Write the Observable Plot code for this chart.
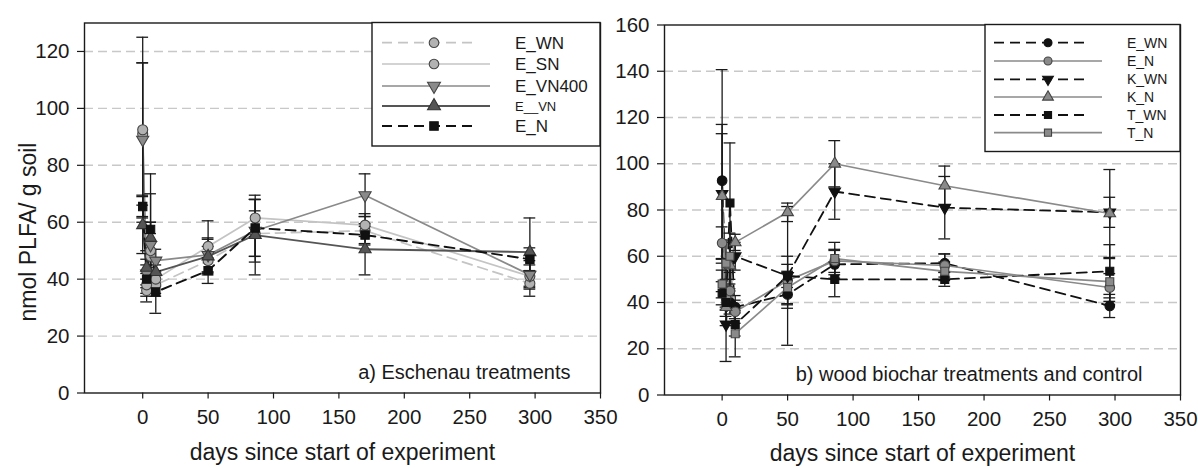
<!DOCTYPE html>
<html>
<head>
<meta charset="utf-8">
<script src="https://cdn.jsdelivr.net/npm/d3@7"></script>
<script src="https://cdn.jsdelivr.net/npm/@observablehq/plot@0.6"></script>
<style>
  body { margin: 0; background: #fff; font-family: "Liberation Sans", Arial, sans-serif; }
  #wrap { position: relative; width: 1198px; height: 468px; overflow: hidden; background: #fff; }
  .panel { position: absolute; top: 0; }
  #overlay { position: absolute; left: 0; top: 0; pointer-events: none; }
</style>
</head>
<body>
<div id="wrap">
  <div class="panel" id="pa" style="left:0px"></div>
  <div class="panel" id="pb" style="left:612px"></div>
</div>
<script>
// ---------- data ----------
const days = [0, 3, 6, 10, 50, 86, 170, 296];
const xTicks = [0, 50, 100, 150, 200, 250, 300, 350];
const yTicksA = [0, 20, 40, 60, 80, 100, 120];
const yTicksB = [0, 20, 40, 60, 80, 100, 120, 140, 160];

// panel a) Eschenau treatments
const seriesA = ["E_WN", "E_SN", "E_VN400", "E__VN", "E_N"];
const a_E_WN      = [91, 36, 48, 38, 46.5, 56, 57, 38.5];
const a_E_WN_err  = [25, 4, 8, 4, 5, 8, 5, 4.5];
const a_E_SN      = [92.5, 38, 50, 40, 51.5, 61.5, 59, 41];
const a_E_SN_err  = [32.5, 4, 10, 5, 9, 6.5, 4, 4];
const a_E_VN400     = [89, 42, 52, 46.5, 48.5, 57, 69.5, 41.5];
const a_E_VN400_err = [27, 5, 8, 4, 6, 11, 7.5, 5];
const a_E__VN     = [59, 44, 54.5, 42.5, 48, 55.5, 50.5, 49.5];
const a_E__VN_err = [10, 6, 15.5, 5, 6, 14, 9, 12];
const a_E_N       = [65.5, 40, 57.5, 35.5, 43, 58, 55.5, 47];
const a_E_N_err   = [4, 5, 19.5, 7.5, 4.5, 10, 3, 4];

// panel b) wood biochar treatments and control
const seriesB = ["E_WN", "E_N", "K_WN", "K_N", "T_WN", "T_N"];
const b_E_WN      = [92.7, 44, 40, 38, 43.5, 56.5, 57, 38.5];
const b_E_WN_err  = [48, 6, 5, 5, 6, 6, 4, 5];
const b_E_N       = [65.7, 42, 45, 36, 49.5, 58, 56, 46.5];
const b_E_N_err   = [7, 5, 8, 5, 10.5, 5, 5, 6];
const b_K_WN      = [87, 30.5, 57, 60, 51.5, 88, 81, 79];
const b_K_WN_err  = [30, 16, 9, 6, 30, 12, 13.5, 6.5];
const b_K_N       = [86, 38, 56, 66, 79, 100, 90.5, 78.5];
const b_K_N_err   = [27, 8, 10, 3.5, 4, 10, 8.5, 19];
const b_T_WN      = [44, 40, 83, 30.5, 51.5, 50, 50, 53.5];
const b_T_WN_err  = [5, 6, 26, 5, 5, 7.5, 3, 11.5];
const b_T_N       = [48, 57, 60, 26.5, 46.5, 59, 53.5, 49];
const b_T_N_err   = [6, 10, 10, 10, 7, 7, 4, 10];

const valuesA = {E_WN: [a_E_WN, a_E_WN_err], E_SN: [a_E_SN, a_E_SN_err], E_VN400: [a_E_VN400, a_E_VN400_err], E__VN: [a_E__VN, a_E__VN_err], E_N: [a_E_N, a_E_N_err]};
const valuesB = {E_WN: [b_E_WN, b_E_WN_err], E_N: [b_E_N, b_E_N_err], K_WN: [b_K_WN, b_K_WN_err], K_N: [b_K_N, b_K_N_err], T_WN: [b_T_WN, b_T_WN_err], T_N: [b_T_N, b_T_N_err]};

// ---------- styles ----------
const triDown = {
  draw(context, size) {
    const y = -Math.sqrt(size / (Math.sqrt(3) * 3));
    context.moveTo(0, -y * 2);
    context.lineTo(-Math.sqrt(3) * y, y);
    context.lineTo(Math.sqrt(3) * y, y);
    context.closePath();
  }
};
const DASH = "10,6";
const styleA = {
  E_WN:    {line: "#c4c4c4", dash: DASH, lw: 1.7, symbol: "circle", sym: d3.symbolCircle, r: 5.0, fill: "#b2b2b2", stroke: "#444", fs: 17},
  E_SN:    {line: "#c4c4c4", dash: null, lw: 1.7, symbol: "circle", sym: d3.symbolCircle, r: 5.0, fill: "#b2b2b2", stroke: "#444", fs: 17},
  E_VN400: {line: "#8a8a8a", dash: null, lw: 1.7, symbol: triDown, sym: triDown, r: 4.5, fill: "#8a8a8a", stroke: "#444", fs: 17},
  E__VN:   {line: "#555", dash: null, lw: 1.8, symbol: "triangle", sym: d3.symbolTriangle, r: 4.5, fill: "#555", stroke: "#333", fs: 13},
  E_N:     {line: "#111", dash: DASH, lw: 1.9, symbol: "square", sym: d3.symbolSquare, r: 4.7, fill: "#111", stroke: "#111", fs: 17}
};
const styleB = {
  E_WN: {line: "#111", dash: DASH, lw: 1.8, symbol: "circle", sym: d3.symbolCircle, r: 4.8, fill: "#111", stroke: "#111", fs: 14},
  E_N:  {line: "#8a8a8a", dash: null, lw: 1.7, symbol: "circle", sym: d3.symbolCircle, r: 4.8, fill: "#8a8a8a", stroke: "#444", fs: 14},
  K_WN: {line: "#111", dash: DASH, lw: 1.8, symbol: triDown, sym: triDown, r: 4.3, fill: "#111", stroke: "#111", fs: 14},
  K_N:  {line: "#8a8a8a", dash: null, lw: 1.7, symbol: "triangle", sym: d3.symbolTriangle, r: 4.3, fill: "#8a8a8a", stroke: "#444", fs: 14},
  T_WN: {line: "#111", dash: DASH, lw: 1.8, symbol: "square", sym: d3.symbolSquare, r: 4.5, fill: "#111", stroke: "#111", fs: 14},
  T_N:  {line: "#8a8a8a", dash: null, lw: 1.7, symbol: "square", sym: d3.symbolSquare, r: 4.5, fill: "#8a8a8a", stroke: "#444", fs: 14}
};

function toTable(names, values) {
  const out = [];
  for (const s of names) {
    const [v, e] = values[s];
    days.forEach((d, i) => out.push({series: s, day: d, value: v[i], err: e[i]}));
  }
  return out;
}

const CAP = 4.5;
function makePanel(cfg) {
  const table = toTable(cfg.names, cfg.values);
  const marks = [
    Plot.gridY(cfg.yTicks.filter(t => t > 0 && t < cfg.yMax), {stroke: "#c8c8c8", strokeOpacity: 1, strokeWidth: 1.4, strokeDasharray: "9,5"}),
    Plot.axisX(xTicks, {tickSize: 6, tickPadding: 10, fontSize: 20.5, label: null, strokeWidth: 1.2}),
    Plot.axisY(cfg.yTicks, {tickSize: 7, tickPadding: 8, fontSize: 20.5, label: null, strokeWidth: 1.2}),
    Plot.text([cfg.xTitle], {text: d => d, frameAnchor: "bottom", dy: cfg.titleDy, lineAnchor: "bottom", fontSize: 23, fill: "#1a1a1a"}),
    Plot.text([cfg.note], {text: d => d, frameAnchor: "bottom-right", dx: cfg.noteDx, dy: -20, textAnchor: "end", lineAnchor: "middle", fontSize: 20, fill: "#1a1a1a"})
  ];
  if (cfg.yTitle) {
    marks.push(Plot.text([cfg.yTitle], {text: d => d, frameAnchor: "left", dx: -56, dy: 24, rotate: -90, textAnchor: "middle", lineAnchor: "middle", fontSize: 23, fill: "#1a1a1a"}));
  }
  for (const s of cfg.names) {
    const st = cfg.style[s];
    const d = table.filter(r => r.series === s);
    marks.push(Plot.line(d, {x: "day", y: "value", stroke: st.line, strokeWidth: st.lw, strokeDasharray: st.dash || undefined}));
  }
  for (const s of cfg.names) {
    const d = table.filter(r => r.series === s);
    marks.push(Plot.ruleX(d, {x: "day", y1: r => r.value - r.err, y2: r => r.value + r.err, stroke: "#1a1a1a", strokeWidth: 1.3}));
    marks.push(Plot.ruleY(d, {y: r => r.value + r.err, x1: r => r.day - CAP, x2: r => r.day + CAP, stroke: "#1a1a1a", strokeWidth: 1.3}));
    marks.push(Plot.ruleY(d, {y: r => r.value - r.err, x1: r => r.day - CAP, x2: r => r.day + CAP, stroke: "#1a1a1a", strokeWidth: 1.3}));
  }
  for (const s of cfg.names) {
    const st = cfg.style[s];
    const d = table.filter(r => r.series === s);
    marks.push(Plot.dot(d, {x: "day", y: "value", symbol: st.symbol, r: st.r, fill: st.fill, stroke: st.stroke, strokeWidth: 1.1}));
  }
  marks.push(Plot.frame({stroke: "#1a1a1a", strokeWidth: 1.4}));
  return Plot.plot({
    width: cfg.width, height: 468,
    marginLeft: cfg.ml, marginRight: cfg.mr, marginTop: cfg.mt, marginBottom: cfg.mb,
    x: {domain: cfg.xDomain},
    y: {domain: [0, cfg.yMax]},
    style: {background: "none", overflow: "visible", color: "#1a1a1a", fontFamily: "'Liberation Sans', Arial, sans-serif"},
    marks
  });
}

document.getElementById("pa").append(makePanel({
  names: seriesA, values: valuesA, style: styleA, yTicks: yTicksA, yMax: 130,
  width: 612, ml: 84, mr: 12, mt: 22.5, mb: 75.5, xDomain: [-44.5, 350],
  xTitle: "days since start of experiment", yTitle: "nmol PLFA/ g soil", titleDy: 67,
  note: "a) Eschenau treatments", noteDx: -30
}));
document.getElementById("pb").append(makePanel({
  names: seriesB, values: valuesB, style: styleB, yTicks: yTicksB, yMax: 160,
  width: 586, ml: 52, mr: 18, mt: 24.5, mb: 73.5, xDomain: [-44, 350],
  xTitle: "days since start of experiment", yTitle: null, titleDy: 66,
  note: "b) wood biochar treatments and control", noteDx: -38
}));

// ---------- legends ----------
const overlay = d3.create("svg").attr("id", "overlay").attr("width", 1198).attr("height", 468)
  .style("font-family", "'Liberation Sans', Arial, sans-serif");
function legend(cfg) {
  const g = overlay.append("g");
  g.append("rect").attr("x", cfg.x).attr("y", cfg.y).attr("width", cfg.w).attr("height", cfg.h)
    .attr("fill", "#fff").attr("stroke", "#1a1a1a").attr("stroke-width", 1.4);
  cfg.names.forEach((s, i) => {
    const st = cfg.style[s];
    const y = cfg.rows[i];
    g.append("line").attr("x1", cfg.lx1).attr("x2", st.dash ? cfg.lx2d : cfg.lx2).attr("y1", y).attr("y2", y)
      .attr("stroke", st.line).attr("stroke-width", st.lw).attr("stroke-dasharray", st.dash || null);
    g.append("path").attr("d", d3.symbol(st.sym, Math.PI * cfg.r * cfg.r)())
      .attr("transform", `translate(${cfg.mx},${y})`)
      .attr("fill", st.fill).attr("stroke", st.stroke).attr("stroke-width", 1.1);
    g.append("text").attr("x", cfg.tx).attr("y", y).attr("dy", "0.35em")
      .attr("font-size", st.fs).attr("fill", "#1a1a1a").text(s);
  });
}
legend({names: seriesA, style: styleA, x: 372, y: 22.5, w: 228, h: 123.5,
  rows: [42.7, 64, 86, 106, 126], lx1: 382, lx2: 490, lx2d: 477, mx: 434, tx: 515, r: 4.8});
legend({names: seriesB, style: styleB, x: 985, y: 24.5, w: 195, h: 127,
  rows: [42.7, 61, 79.3, 97, 115, 132.7], lx1: 994, lx2: 1102, lx2d: 1090, mx: 1048, tx: 1127, r: 4.0});
document.getElementById("wrap").append(overlay.node());
</script>
</body>
</html>
